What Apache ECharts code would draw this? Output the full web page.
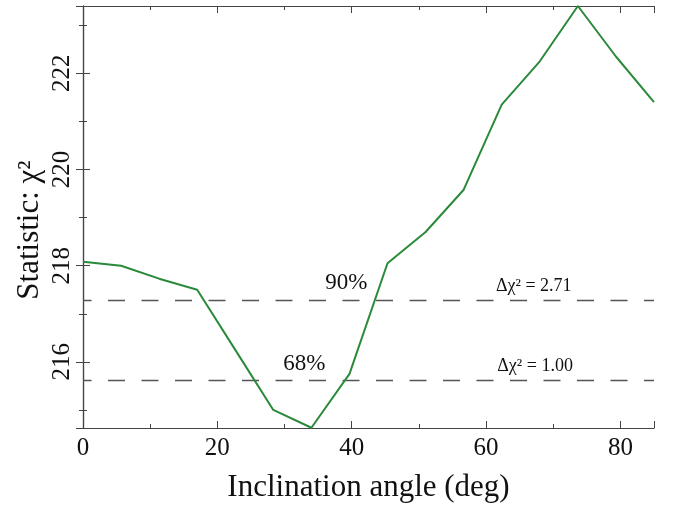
<!DOCTYPE html>
<html><head><meta charset="utf-8">
<script src="https://cdn.jsdelivr.net/npm/echarts@6/dist/echarts.min.js"></script>
<style>html,body{margin:0;padding:0;background:#fff}#c{width:680px;height:508px}</style>
</head><body><div id="c"></div>
<script>
var angles = [0, 5.67, 11.33, 17, 22.67, 28.33, 34, 39.67, 45.33, 51, 56.67, 62.33, 68, 73.67, 79.33, 85];
var chi2 = [218.08, 218.0, 217.73, 217.5, 216.25, 215.0, 214.63, 215.75, 218.05, 218.7, 219.58, 221.35, 222.25, 223.4, 222.35, 221.4];
var levels = [217.28, 215.62];
var levelNames = ['90%', '68%'];
var levelNameX = [39.2, 32.96];
var levelNameY = [217.65, 215.95];
var deltaLabels = ['Δχ² = 2.71', 'Δχ² = 1.00'];
var deltaX = [67.1, 67.3];
var deltaY = [217.57, 215.9];
var xName = 'Inclination angle (deg)';
var yName = 'Statistic: χ²';

var serif = '"Liberation Serif","DejaVu Serif",serif';
var frame = '#444';
var data = angles.map(function(a, i){ return [a, chi2[i]]; });

var chart = echarts.init(document.getElementById('c'));
var axBase = {
  axisLine:{show:true, lineStyle:{color:frame, width:1.2}},
  axisTick:{show:true, inside:true, length:7, lineStyle:{color:frame}},
  minorTick:{show:true, splitNumber:2, length:4, lineStyle:{color:frame}},
  splitLine:{show:false}
};
chart.setOption({
  animation:false,
  grid:{left:83, right:26, top:6, bottom:80, containLabel:false, outerBoundsMode:'none'},
  xAxis:[
    Object.assign({type:'value', min:0, max:85, interval:20, position:'bottom',
      name:xName, nameLocation:'middle', nameGap:44,
      nameTextStyle:{fontFamily:serif, fontSize:31, color:'#111'},
      axisLabel:{fontFamily:serif, fontSize:25, color:'#111', margin:8, showMaxLabel:false}}, axBase),
    Object.assign({type:'value', min:0, max:85, interval:20, position:'top',
      axisLabel:{show:false}}, axBase)
  ],
  yAxis:[
    Object.assign({type:'value', min:214.625, max:223.4, splitNumber:4, position:'left',
      axisLabel:{fontFamily:serif, fontSize:25, color:'#111', rotate:90, margin:8,
        showMinLabel:false, showMaxLabel:false,
        formatter:function(v){ return (Math.abs(v - Math.round(v)) < 1e-6) ? String(Math.round(v)) : ''; }}}, axBase),
    Object.assign({type:'value', min:214.625, max:223.4, splitNumber:4, position:'right',
      axisLabel:{show:false}}, axBase)
  ],
  series:[
    {type:'line', data:data, symbol:'none', z:3, lineStyle:{color:'#2a8a3a', width:2}, itemStyle:{color:'#2a8a3a'},
     markLine:{silent:true, symbol:'none', label:{show:false}, z:2,
       lineStyle:{color:'#555', type:[17,16.5], dashOffset:8.5, width:1.3},
       data: levels.map(function(v){ return {yAxis:v}; })}}
  ]
});

var g = [{type:'text', x:30, y:230, rotation:Math.PI/2,
  style:{text:yName, font:'31px ' + serif, fill:'#111', align:'center', verticalAlign:'middle'}}];
function addText(txt, dx, dy, size){
  var p = chart.convertToPixel({xAxisIndex:0, yAxisIndex:0}, [dx, dy]);
  g.push({type:'text', x:p[0], y:p[1],
    style:{text:txt, font:size + 'px ' + serif, fill:'#111', align:'center', verticalAlign:'middle'}});
}
levels.forEach(function(v, i){
  addText(levelNames[i], levelNameX[i], levelNameY[i], 23);
  addText(deltaLabels[i], deltaX[i], deltaY[i], 18);
});
chart.setOption({graphic:g});
</script></body></html>
